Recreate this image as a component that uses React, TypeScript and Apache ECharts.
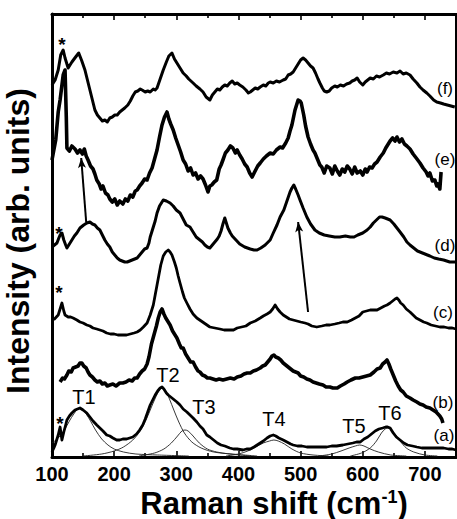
import React, { useEffect, useRef } from "react";
import * as echarts from "echarts";

type Pt = [number, number];

const X_MIN = 100;
const X_MAX = 750;
const X_STEP = 100;
const Y_MIN = 0;
const Y_MAX = 443;

const curveA: Pt[] = [[100,5],[103,9],[105,12],[108,18],[110,22],[113,30],[116,17],[119,25],[122,32],[124,37],[128,41],[132,44],[137,47],[141,48],[145,49],[150,47],[156,44],[161,40],[166,36],[172,32],[177,29],[182,26],[188,22],[193,21],[198,19],[204,17],[209,17],[214,18],[220,18],[225,19],[230,20],[236,23],[241,27],[246,32],[250,38],[254,45],[258,52],[262,57],[266,62],[270,66],[274,69],[277,70],[280,68],[284,64],[287,62],[291,60],[295,58],[301,55],[306,52],[311,48],[317,45],[322,42],[327,39],[333,35],[338,31],[343,28],[349,22],[354,20],[360,17],[366,14],[372,12],[378,11],[386,9],[392,8],[398,8],[407,7],[413,8],[419,8],[425,10],[430,12],[435,14],[440,16],[446,19],[451,21],[456,22],[460,21],[465,19],[472,17],[478,15],[484,13],[488,12],[495,11],[502,11],[510,10],[518,10],[526,10],[534,10],[542,10],[550,11],[558,11],[568,12],[576,13],[584,14],[590,15],[596,15],[602,18],[608,20],[614,23],[620,26],[626,28],[632,29],[637,30],[640,30],[644,29],[649,24],[654,20],[660,17],[666,14],[672,12],[680,11],[687,10],[695,9],[702,9],[708,9],[716,9],[724,9],[730,9],[738,8],[744,8],[750,7]];

const curveB: Pt[] = [[113,75],[117,79],[120,78],[124,82],[127,86],[131,85],[134,89],[138,90],[142,91],[145,94],[148,94],[151,91],[155,89],[158,85],[161,82],[165,80],[169,77],[173,75],[177,76],[181,73],[185,74],[189,71],[193,72],[198,73],[203,71],[209,74],[214,74],[219,75],[224,77],[229,76],[233,79],[237,79],[241,83],[245,86],[249,88],[253,93],[256,100],[260,113],[264,122],[268,131],[271,139],[274,145],[277,148],[280,143],[283,139],[287,135],[290,132],[294,126],[298,122],[301,119],[305,113],[308,109],[311,109],[315,103],[319,99],[323,95],[327,95],[331,90],[335,86],[338,85],[342,82],[346,81],[350,79],[354,79],[359,78],[364,77],[369,78],[375,77],[381,78],[387,79],[393,78],[398,80],[404,81],[409,83],[414,84],[419,84],[424,86],[429,87],[435,89],[439,91],[443,92],[447,95],[451,98],[454,101],[457,102],[460,100],[464,99],[468,97],[472,94],[476,92],[480,90],[484,88],[488,86],[492,85],[496,84],[500,81],[505,80],[510,78],[515,77],[520,75],[525,74],[530,73],[536,72],[541,70],[547,70],[552,69],[559,69],[564,71],[570,73],[575,75],[581,77],[588,79],[594,79],[600,80],[606,81],[612,82],[618,85],[623,88],[628,89],[632,93],[636,95],[639,97],[642,93],[645,88],[649,82],[653,76],[657,71],[661,67],[665,65],[670,61],[676,59],[681,57],[687,55],[692,53],[697,52],[702,50],[708,49],[713,47],[718,45],[724,41],[727,38],[729,34]];

const curveC: Pt[] = [[100,137],[104,138],[107,140],[110,142],[113,148],[116,154],[119,146],[121,142],[126,140],[130,140],[134,139],[140,137],[145,135],[150,134],[156,132],[161,131],[166,129],[172,128],[177,127],[182,126],[188,124],[194,123],[200,123],[206,122],[214,122],[220,122],[226,123],[232,124],[237,125],[242,127],[247,130],[253,134],[258,142],[263,152],[266,162],[269,172],[272,182],[275,192],[279,201],[283,205],[287,207],[290,205],[293,202],[297,195],[300,189],[303,181],[306,174],[310,165],[313,159],[317,154],[322,148],[327,143],[333,139],[340,136],[347,133],[354,130],[362,129],[370,128],[377,127],[385,127],[392,127],[398,129],[405,130],[412,131],[419,134],[427,136],[435,139],[440,141],[446,143],[451,145],[455,148],[459,152],[463,148],[467,145],[472,142],[477,140],[482,138],[488,137],[494,136],[500,135],[507,134],[512,133],[518,131],[526,130],[534,131],[541,132],[547,132],[555,133],[562,134],[568,135],[575,135],[582,137],[588,139],[594,141],[600,145],[606,146],[612,147],[617,147],[623,147],[629,149],[635,151],[639,152],[644,154],[648,156],[652,158],[655,159],[658,157],[661,154],[665,152],[670,148],[676,145],[681,142],[686,139],[692,137],[698,135],[703,134],[710,132],[717,131],[724,130],[731,130],[738,129],[744,129],[750,128]];

const curveD: Pt[] = [[100,210],[104,212],[108,214],[111,219],[113,222],[116,224],[119,217],[122,212],[124,209],[128,213],[132,217],[136,221],[140,224],[145,229],[151,232],[156,234],[161,235],[165,233],[169,232],[173,229],[177,227],[181,222],[185,217],[189,213],[193,210],[197,205],[201,202],[205,199],[209,197],[213,196],[217,195],[221,195],[225,196],[229,197],[233,198],[237,199],[241,202],[245,205],[249,208],[253,209],[256,214],[258,220],[262,228],[266,236],[269,244],[273,251],[279,257],[284,256],[290,254],[295,251],[300,247],[306,244],[311,238],[316,232],[322,230],[327,225],[332,220],[338,217],[342,215],[346,212],[350,210],[354,209],[358,212],[362,215],[366,218],[369,221],[372,226],[375,233],[378,239],[381,233],[383,229],[387,224],[390,221],[396,217],[402,213],[410,210],[419,208],[425,207],[430,207],[436,209],[443,212],[451,217],[456,224],[462,232],[467,240],[473,247],[478,256],[483,265],[486,269],[489,272],[492,268],[496,262],[499,257],[504,249],[510,240],[516,233],[523,227],[530,224],[538,222],[546,221],[555,220],[563,220],[572,221],[580,220],[586,220],[592,222],[600,224],[607,227],[612,230],[617,234],[622,237],[627,240],[631,240],[636,239],[640,238],[644,237],[650,233],[655,229],[660,225],[666,220],[671,215],[676,212],[682,209],[688,206],[692,205],[700,203],[708,201],[715,199],[722,198],[730,197],[740,195],[750,195]];

const curveE: Pt[] = [[100,297],[106,317],[110,345],[113,357],[118,382],[121,387],[123,340],[124,309],[128,306],[132,311],[137,308],[141,304],[145,307],[149,303],[152,308],[155,301],[158,297],[162,291],[166,288],[169,283],[172,277],[176,273],[179,268],[182,271],[186,264],[190,262],[193,258],[197,255],[201,258],[205,252],[209,256],[214,253],[218,258],[222,256],[226,262],[230,260],[234,266],[237,267],[241,271],[245,274],[249,278],[253,277],[257,284],[261,289],[265,298],[269,307],[273,320],[277,332],[281,340],[285,345],[288,338],[291,333],[295,327],[299,319],[303,312],[307,305],[311,297],[315,293],[319,286],[323,289],[327,282],[331,284],[335,278],[339,281],[343,278],[347,272],[351,265],[354,271],[357,272],[361,275],[365,277],[369,288],[372,292],[375,297],[379,304],[383,307],[387,311],[391,309],[395,304],[398,307],[402,302],[406,298],[410,293],[414,290],[418,284],[422,280],[426,285],[431,291],[435,294],[440,298],[445,301],[451,304],[456,303],[461,307],[467,310],[471,309],[476,314],[480,319],[483,326],[486,332],[489,341],[491,347],[494,353],[496,357],[499,356],[501,354],[503,348],[505,342],[508,331],[512,320],[516,313],[520,307],[523,304],[527,298],[531,292],[534,290],[538,284],[542,291],[547,289],[551,283],[555,291],[559,286],[563,282],[567,288],[571,285],[575,291],[579,288],[583,283],[587,290],[591,284],[596,286],[600,282],[604,288],[607,285],[611,290],[615,289],[619,293],[623,295],[628,300],[633,304],[637,309],[641,313],[644,316],[648,319],[652,316],[655,320],[659,315],[663,318],[667,313],[671,311],[676,308],[681,303],[686,299],[692,294],[697,289],[702,285],[705,281],[708,284],[712,276],[716,277],[719,271],[721,273],[724,268],[726,285]];

const curveF: Pt[] = [[100,372],[105,377],[110,387],[114,402],[118,407],[121,399],[126,389],[132,395],[138,400],[143,404],[148,396],[153,387],[157,377],[161,367],[165,357],[169,347],[173,342],[177,339],[181,336],[185,337],[189,335],[193,339],[197,340],[201,342],[205,342],[209,345],[213,347],[217,349],[222,352],[226,356],[230,361],[234,365],[238,366],[242,368],[245,367],[250,365],[254,366],[258,365],[263,368],[266,367],[269,369],[274,378],[279,387],[284,395],[288,401],[293,404],[297,398],[301,394],[306,389],[311,384],[316,381],[320,378],[327,374],[332,371],[338,368],[343,365],[348,360],[354,357],[358,362],[362,365],[366,368],[370,367],[374,370],[378,372],[382,371],[386,374],[390,376],[394,373],[398,374],[402,372],[407,370],[412,367],[416,364],[419,365],[423,367],[427,369],[431,368],[435,370],[440,372],[444,371],[448,374],[451,375],[456,374],[461,376],[466,375],[472,377],[476,378],[480,382],[484,383],[488,385],[492,389],[496,393],[500,397],[504,399],[508,397],[512,394],[516,391],[520,389],[524,384],[528,378],[531,374],[535,369],[538,366],[542,365],[546,366],[550,369],[555,371],[559,370],[564,372],[569,371],[574,373],[579,374],[583,376],[587,377],[591,379],[595,375],[600,372],[604,375],[608,377],[612,379],[617,378],[622,381],[627,380],[633,382],[638,384],[643,383],[649,385],[655,384],[660,386],[665,383],[670,384],[676,382],[681,378],[687,374],[692,370],[697,367],[703,364],[708,361],[714,357],[719,355],[725,354],[730,353],[736,352],[742,351],[748,350]];

const fitT1: Pt[] = [[100,14],[110,19],[120,27],[128,36],[135,43],[140,47],[145,49],[150,47],[155,43],[162,36],[170,27],[180,18],[190,12],[200,8],[215,5],[235,3],[270,2],[320,1]];
const fitT2: Pt[] = [[150,1],[180,3],[200,6],[215,10],[230,17],[242,26],[252,38],[260,50],[267,60],[272,66],[277,70],[283,66],[289,58],[296,47],[304,35],[313,24],[325,15],[340,9],[360,5],[390,3],[430,1]];
const fitT3: Pt[] = [[240,1],[265,4],[280,8],[292,14],[302,21],[309,26],[314,27],[319,26],[327,21],[337,14],[350,8],[365,5],[385,3],[420,1]];
const fitT4: Pt[] = [[380,1],[400,3],[415,6],[428,10],[440,14],[450,16],[457,17],[464,16],[474,13],[486,8],[500,4],[520,2],[545,1]];
const fitT5: Pt[] = [[530,1],[550,3],[565,6],[578,9],[588,11],[595,12],[602,11],[612,8],[625,5],[645,2],[670,1]];
const fitT6: Pt[] = [[580,1],[598,4],[612,9],[622,16],[630,24],[636,28],[640,29],[645,28],[652,23],[660,16],[670,9],[682,5],[700,2],[720,1]];

const arrowLines: [Pt, Pt][] = [
  [[155, 235], [147, 299]],
  [[512, 145], [496, 235]],
];

const curveNames = ["(a)", "(b)", "(c)", "(d)", "(e)", "(f)"];
const peakNames = ["T1", "T2", "T3", "T4", "T5", "T6"];
const starMark = "*";

const FONT = '"Liberation Sans", Arial, sans-serif';

export default function App() {
  const ref = useRef<HTMLDivElement>(null);

  useEffect(() => {
    if (!ref.current) return;
    const chart = echarts.init(ref.current, undefined, { renderer: "svg" });

    const thick = [
      { d: curveA, w: 2.8 },
      { d: curveB, w: 3.6 },
      { d: curveC, w: 2.8 },
      { d: curveD, w: 3 },
      { d: curveE, w: 3.6 },
      { d: curveF, w: 3 },
    ];
    const fits = [fitT1, fitT2, fitT3, fitT4, fitT5, fitT6];

    const series: any[] = [];
    fits.forEach((f, i) => {
      series.push({
        name: peakNames[i],
        type: "line",
        data: f,
        showSymbol: false,
        smooth: 0.3,
        silent: true,
        lineStyle: { color: "#222", width: 0.9 },
        z: 2,
      });
    });
    thick.forEach((c, i) => {
      series.push({
        name: curveNames[i],
        type: "line",
        data: c.d,
        showSymbol: false,
        silent: true,
        lineStyle: { color: "#000", width: c.w, join: "round" },
        z: 3,
      });
    });
    series.push({
      name: "arrows",
      type: "line",
      data: [],
      markLine: {
        silent: true,
        symbol: ["none", "arrow"],
        symbolSize: [6, 10],
        label: { show: false },
        lineStyle: { color: "#000", width: 2, type: "solid" },
        data: arrowLines.map((l) => [{ coord: l[0] }, { coord: l[1] }]),
      },
    });

    const peakPos: Pt[] = [[84, 397], [168, 375], [204, 407], [274, 419], [354, 426], [390, 413]];
    const labelPos: Pt[] = [[444, 435], [443, 402], [443, 312], [445, 245], [445, 159], [445, 88]];
    const starPos: Pt[] = [[60, 423], [59, 292], [59, 233], [62, 44]];

    const graphic: any[] = [];
    peakNames.forEach((t, i) =>
      graphic.push({
        type: "text",
        x: peakPos[i][0],
        y: peakPos[i][1],
        z: 10,
        style: { text: t, font: `20px ${FONT}`, fill: "#000", align: "center", verticalAlign: "middle" },
      })
    );
    curveNames.forEach((t, i) =>
      graphic.push({
        type: "text",
        x: labelPos[i][0],
        y: labelPos[i][1],
        z: 10,
        style: { text: t, font: `17px ${FONT}`, fill: "#000", align: "center", verticalAlign: "middle" },
      })
    );
    starPos.forEach((p) =>
      graphic.push({
        type: "text",
        x: p[0],
        y: p[1],
        z: 10,
        style: { text: starMark, font: `bold 19px ${FONT}`, fill: "#000", align: "center", verticalAlign: "middle" },
      })
    );
    graphic.push({
      type: "text",
      x: 18,
      y: 241,
      rotation: Math.PI / 2,
      z: 10,
      style: {
        text: "Intensity (arb. units)",
        font: `bold 32px ${FONT}`,
        fill: "#000",
        align: "center",
        verticalAlign: "middle",
      },
    });
    graphic.push({
      type: "text",
      x: 274,
      y: 503,
      z: 10,
      style: {
        text: "{m|Raman shift (cm}{s|-1}{m|)}",
        fill: "#000",
        align: "center",
        verticalAlign: "middle",
        rich: {
          m: { font: `bold 31px ${FONT}`, fill: "#000" },
          s: { font: `bold 18px ${FONT}`, fill: "#000", verticalAlign: "top" },
        },
      },
    });

    const tickCommon = {
      axisTick: { show: true, inside: true, length: 6, lineStyle: { color: "#000", width: 1.6 } },
      minorTick: { show: true, splitNumber: 2, length: 4, lineStyle: { color: "#000", width: 1.6 } },
      splitLine: { show: false },
      minorSplitLine: { show: false },
    };

    chart.setOption({
      animation: false,
      backgroundColor: "#fff",
      grid: { left: 52, right: 1, top: 14, bottom: 62, show: true, borderColor: "#000", borderWidth: 2 },
      xAxis: [
        {
          type: "value",
          min: X_MIN,
          max: X_MAX,
          interval: X_STEP,
          position: "bottom",
          axisLine: { show: true, lineStyle: { color: "#000", width: 3 } },
          axisLabel: {
            show: true,
            color: "#000",
            fontFamily: FONT,
            fontWeight: "bold",
            fontSize: 20,
            margin: 7,
            showMaxLabel: false,
          },
          ...tickCommon,
        },
        {
          type: "value",
          min: X_MIN,
          max: X_MAX,
          interval: X_STEP,
          position: "top",
          axisLine: { show: true, lineStyle: { color: "#000", width: 3 } },
          axisLabel: { show: false },
          ...tickCommon,
        },
      ],
      yAxis: {
        type: "value",
        min: Y_MIN,
        max: Y_MAX,
        axisLine: { show: true, lineStyle: { color: "#000", width: 3 } },
        axisTick: { show: false },
        axisLabel: { show: false },
        splitLine: { show: false },
      },
      series,
      graphic,
    });

    return () => chart.dispose();
  }, []);

  return (
    <div
      ref={ref}
      style={{ position: "fixed", left: 0, top: 0, width: 457, height: 519, background: "#fff" }}
    />
  );
}
